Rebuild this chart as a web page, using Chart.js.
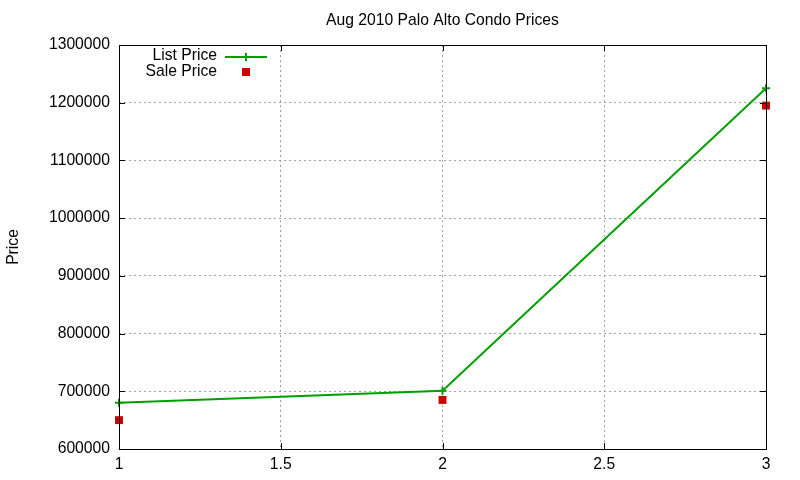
<!DOCTYPE html>
<html>
<head>
<meta charset="utf-8">
<script src="https://cdn.jsdelivr.net/npm/chart.js@4"></script>
<style>
  html, body { margin: 0; padding: 0; background: #fff; }
  #wrap { width: 800px; height: 480px; }
</style>
</head>
<body>
<div id="wrap"><canvas id="chart" width="800" height="480"></canvas></div>
<script>
// data
const xValues = [1, 2, 3];
const listPrice = [680000, 701000, 1225000];
const salePrice = [650000, 685000, 1195000];
const xTicks = [1, 1.5, 2, 2.5, 3];
const seriesNames = ['List Price', 'Sale Price'];
const chartTitle = 'Aug 2010 Palo Alto Condo Prices';

const GREEN = '#00a000';
const RED = '#cc0000';
const FONT = 'Liberation Sans, Arial, sans-serif';
const FS = 15.7;

// gnuplot style: frame box, inward ticks on all sides, legend inside top-left
const frameTicks = {
  id: 'frameTicks',
  afterDraw(chart) {
    const { ctx, chartArea: a, scales } = chart;
    ctx.save();
    ctx.strokeStyle = '#000';
    ctx.lineWidth = 1;
    ctx.strokeRect(a.left + 0.5, a.top + 0.5, a.right - a.left, a.bottom - a.top);
    ctx.beginPath();
    scales.x.ticks.forEach(t => {
      const px = Math.round(scales.x.getPixelForValue(t.value)) + 0.5;
      ctx.moveTo(px, a.bottom); ctx.lineTo(px, a.bottom - 6);
      ctx.moveTo(px, a.top); ctx.lineTo(px, a.top + 6);
    });
    scales.y.ticks.forEach(t => {
      const py = Math.round(scales.y.getPixelForValue(t.value)) + 0.5;
      ctx.moveTo(a.left, py); ctx.lineTo(a.left + 6, py);
      ctx.moveTo(a.right, py); ctx.lineTo(a.right - 6, py);
    });
    ctx.stroke();

    ctx.fillStyle = '#000';
    ctx.font = FS + 'px ' + FONT;
    ctx.textAlign = 'center';
    ctx.textBaseline = 'middle';
    ctx.fillText(chartTitle, (a.left + a.right) / 2, 21);

    // legend
    ctx.textAlign = 'right';
    const tx = a.left + 98, sx = a.left + 127;
    ctx.fillText(seriesNames[0], tx, a.top + 11);
    ctx.fillText(seriesNames[1], tx, a.top + 27);
    ctx.strokeStyle = GREEN;
    ctx.lineWidth = 2;
    ctx.beginPath();
    ctx.moveTo(sx - 21, a.top + 12); ctx.lineTo(sx + 21, a.top + 12);
    ctx.moveTo(sx, a.top + 8); ctx.lineTo(sx, a.top + 16);
    ctx.stroke();
    ctx.fillStyle = RED;
    ctx.fillRect(sx - 4, a.top + 23, 8, 8);
    ctx.restore();
  }
};

new Chart(document.getElementById('chart'), {
  type: 'line',
  data: {
    datasets: [
      {
        label: seriesNames[0],
        data: xValues.map((x, i) => ({ x, y: listPrice[i] })),
        borderColor: GREEN, backgroundColor: GREEN,
        borderWidth: 2, tension: 0, clip: false,
        pointStyle: 'cross', pointRadius: 4, pointBorderWidth: 2
      },
      {
        label: seriesNames[1],
        data: xValues.map((x, i) => ({ x, y: salePrice[i] })),
        showLine: false, clip: false,
        borderColor: RED, backgroundColor: RED,
        pointStyle: 'rect', pointRadius: 5.6, pointBorderWidth: 0
      }
    ]
  },
  options: {
    responsive: false,
    animation: false,
    layout: { padding: { left: 0, right: 34, top: 45, bottom: 0 } },
    plugins: {
      legend: { display: false },
      tooltip: { enabled: false },
      title: { display: false }
    },
    scales: {
      x: {
        type: 'linear', min: 1, max: 3,
        afterBuildTicks: s => { s.ticks = xTicks.map(v => ({ value: v })); },
        afterFit: s => { s.height = 31; },
        grid: { color: '#a0a0a0', drawTicks: false },
        border: { display: false, dash: [2, 3] },
        ticks: {
          color: '#000', padding: 6, font: { family: FONT, size: FS },
          callback: v => String(v)
        }
      },
      y: {
        min: 600000, max: 1300000,
        afterFit: s => { s.width = 119; },
        grid: { color: '#a0a0a0', drawTicks: false },
        border: { display: false, dash: [2, 3] },
        ticks: {
          stepSize: 100000, color: '#000', padding: 9, font: { family: FONT, size: FS },
          callback: v => String(v)
        },
        title: { display: true, text: 'Price', color: '#000', font: { family: FONT, size: FS }, padding: { top: 4, bottom: 20 } }
      }
    }
  },
  plugins: [frameTicks]
});
</script>
</body>
</html>
